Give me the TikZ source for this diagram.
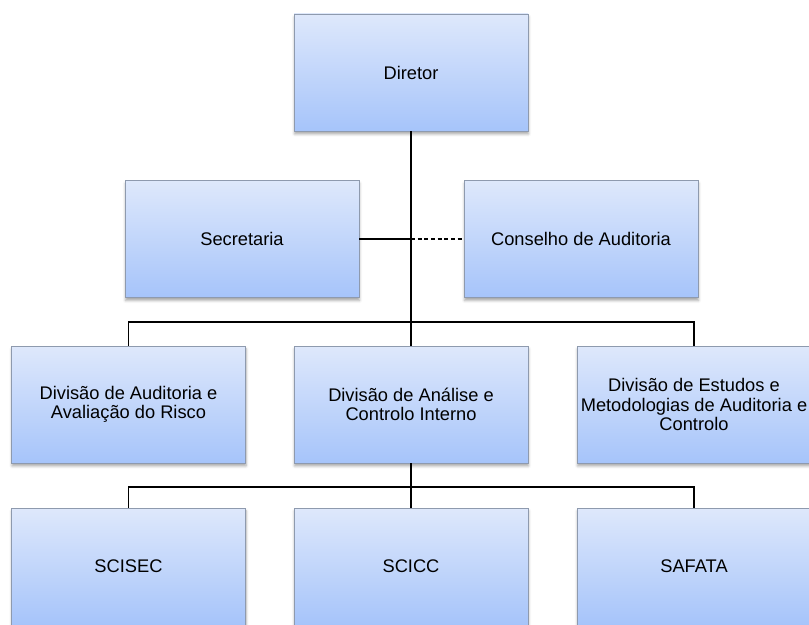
\documentclass[tikz,border=0pt]{standalone}
\usepackage{fontspec}
\setmainfont{Liberation Sans}
\usetikzlibrary{shadows.blur}
\definecolor{boxtop}{HTML}{DEE8FB}
\definecolor{boxbot}{HTML}{A6C4FA}
\definecolor{boxedge}{HTML}{8E9AAE}
\tikzset{
  orgbox/.style={draw=boxedge, line width=0.6pt, top color=boxtop, bottom color=boxbot,
    minimum width=175.5pt, minimum height=87.75pt, inner sep=0pt, align=center,
    font=\fontsize{13.7}{14.6}\selectfont,
    blur shadow={shadow xshift=0.4pt, shadow yshift=-2.2pt, shadow blur radius=2pt, shadow opacity=35}},
  mainline/.style={line width=1.9pt},
  conn/.style={line width=1.15pt},
}
\begin{document}
\begin{tikzpicture}[x=0.75pt, y=-0.75pt]
\useasboundingbox (0,0) rectangle (809,624);
\clip (0,0) rectangle (809,624);
\node[orgbox] (dir) at (411,72.5) {Diretor};
\node[orgbox] (sec) at (242,239) {Secretaria};
\node[orgbox] (cons) at (581,239) {Conselho de Auditoria};
\node[orgbox] (dar) at (128.5,404.5) {Divisão de Auditoria e\\Avaliação do Risco};
\node[orgbox] (daci) at (411,404.5) {Divisão de Análise e\\Controlo Interno};
\node[orgbox] (demac) at (694,404.5) {Divisão de Estudos e\\Metodologias de Auditoria e\\Controlo};
\node[orgbox] (scisec) at (128.5,566.5) {SCISEC};
\node[orgbox] (scicc) at (411,566.5) {SCICC};
\node[orgbox] (safata) at (694,566.5) {SAFATA};
\coordinate (j1) at (411,239);
\coordinate (j2) at (411,322);
\coordinate (j3) at (411,487);
\draw[mainline] (dir.south) -- (j1) -- (j2);
\draw[conn] (j2) -- (daci.north);
\draw[conn] (sec.east) -- (j1);
\draw[conn, dashed, dash pattern=on 3pt off 2pt] (j1) -- (cons.west);
\draw[conn] (dar.north) -- (dar.north |- j2) -- (demac.north |- j2) -- (demac.north);
\draw[conn] (daci.south) -- (j3);
\draw[conn] (scisec.north) -- (scisec.north |- j3) -- (safata.north |- j3) -- (safata.north);
\draw[conn] (j3) -- (scicc.north);
\end{tikzpicture}
\end{document}
